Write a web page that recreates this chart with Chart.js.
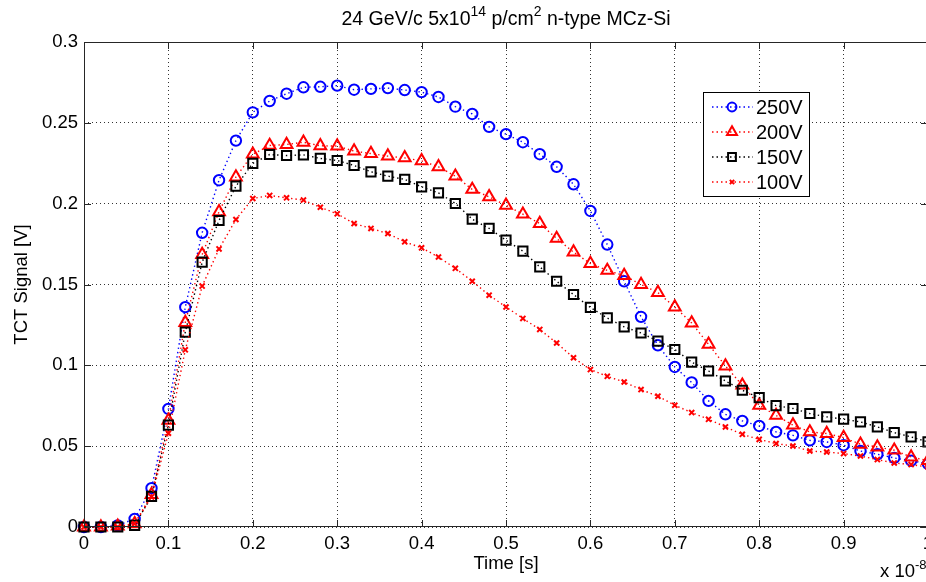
<!DOCTYPE html>
<html>
<head>
<meta charset="utf-8">
<script src="https://cdn.jsdelivr.net/npm/chart.js@4"></script>
<style>
  html, body { margin: 0; padding: 0; background: #fff; overflow: hidden; }
  #wrap { width: 940px; height: 582px; }
</style>
</head>
<body>
<div id="wrap"><canvas id="chTct" width="940" height="582"></canvas></div>
<script>
// time axis, units of 1e-8 s
var times = [0, 0.02, 0.04, 0.06, 0.08, 0.10, 0.12, 0.14, 0.16, 0.18,
             0.20, 0.22, 0.24, 0.26, 0.28, 0.30, 0.32, 0.34, 0.36, 0.38,
             0.40, 0.42, 0.44, 0.46, 0.48, 0.50, 0.52, 0.54, 0.56, 0.58,
             0.60, 0.62, 0.64, 0.66, 0.68, 0.70, 0.72, 0.74, 0.76, 0.78,
             0.80, 0.82, 0.84, 0.86, 0.88, 0.90, 0.92, 0.94, 0.96, 0.98, 1.00];

var v250 = [0, 0, 0.001, 0.005, 0.024, 0.073, 0.136, 0.182, 0.2145, 0.239,
            0.2565, 0.2635, 0.268, 0.272, 0.2723, 0.273, 0.2705, 0.271, 0.2715, 0.2703,
            0.269, 0.266, 0.260, 0.2555, 0.2475, 0.243, 0.238, 0.2306, 0.2228, 0.212,
            0.1955, 0.1747, 0.152, 0.130, 0.1124, 0.099, 0.0894, 0.078, 0.0697, 0.0656,
            0.0625, 0.0588, 0.0567, 0.0536, 0.0526, 0.0506, 0.047, 0.045, 0.0427, 0.041, 0.039];

var v200 = [0, 0, 0.0005, 0.002, 0.020, 0.066, 0.1265, 0.1685, 0.195, 0.2165,
            0.2306, 0.236, 0.2366, 0.238, 0.2358, 0.2356, 0.2325, 0.231, 0.2294, 0.2283,
            0.2265, 0.2228, 0.217, 0.2088, 0.2042, 0.199, 0.1935, 0.1877, 0.1785, 0.170,
            0.163, 0.1587, 0.1555, 0.150, 0.145, 0.136, 0.1262, 0.113, 0.0996, 0.0877,
            0.0753, 0.069, 0.063, 0.0588, 0.0578, 0.0553, 0.0512, 0.0495, 0.0475, 0.0433, 0.041];

var v150 = [0, 0, 0, 0.001, 0.019, 0.063, 0.1205, 0.1638, 0.1896, 0.2108,
            0.2249, 0.2304, 0.2298, 0.2302, 0.228, 0.2267, 0.2236, 0.2197, 0.217, 0.215,
            0.2104, 0.2067, 0.2001, 0.1904, 0.1847, 0.1774, 0.1706, 0.1609, 0.152, 0.1438,
            0.1358, 0.1293, 0.1238, 0.12, 0.115, 0.1098, 0.102, 0.0965, 0.0903, 0.0846,
            0.080, 0.0751, 0.0733, 0.0702, 0.0681, 0.0667, 0.065, 0.0619, 0.0584, 0.0557, 0.0526];

var v100 = [0, 0, 0, 0.002, 0.0186, 0.058, 0.1096, 0.149, 0.172, 0.1902,
            0.2032, 0.2051, 0.2036, 0.2022, 0.1978, 0.1937, 0.1877, 0.1847, 0.1815, 0.1764,
            0.1727, 0.167, 0.160, 0.152, 0.1434, 0.1361, 0.129, 0.1222, 0.1138, 0.1047,
            0.0974, 0.0932, 0.0897, 0.085, 0.0809, 0.0753, 0.0708, 0.0666, 0.0619, 0.0573,
            0.0542, 0.0516, 0.0501, 0.047, 0.0464, 0.0454, 0.0439, 0.0417, 0.0396, 0.0386, 0.0371];

var seriesLabels = ['250V', '200V', '150V', '100V'];
var xTicks = [0, 0.1, 0.2, 0.3, 0.4, 0.5, 0.6, 0.7, 0.8, 0.9, 1];
var yTicks = [0, 0.05, 0.1, 0.15, 0.2, 0.25, 0.3];

var FONT = '"Liberation Sans", Arial, sans-serif';

function pts(vals) {
    return vals.map(function(v, i){ return {x: times[i], y: v}; });
}

var styles = [
    {color: '#0000ff', pointStyle: 'circle',   radius: 5.2},
    {color: '#ff0000', pointStyle: 'triangle', radius: 6.8},
    {color: '#000000', pointStyle: 'rect',     radius: 6.5},
    {color: '#ff0000', pointStyle: 'crossRot', radius: 3.6}
];

var datasets = [v250, v200, v150, v100].map(function(vals, i){
    var s = styles[i];
    return {
        label: seriesLabels[i],
        data: pts(vals),
        borderColor: s.color,
        borderWidth: 1.4,
        borderDash: [1.4, 3],
        pointStyle: s.pointStyle,
        pointRadius: s.radius,
        pointBorderWidth: 2,
        pointBorderColor: s.color,
        pointBackgroundColor: 'rgba(0,0,0,0)',
        tension: 0,
        fill: false,
        clip: false,
        order: 3 - i
    };
});

// text with superscripts, parts = [[text, isSup], ...]
function drawRich(ctx, parts, cx, baseY, size, align) {
    var supSize = Math.round(size * 0.7);
    var widths = parts.map(function(p){
        ctx.font = (p[1] ? supSize : size) + 'px ' + FONT;
        return ctx.measureText(p[0]).width;
    });
    var total = widths.reduce(function(a, b){ return a + b; }, 0);
    var x = align === 'left' ? cx : cx - total / 2;
    ctx.textAlign = 'left';
    ctx.textBaseline = 'alphabetic';
    parts.forEach(function(p, i){
        ctx.font = (p[1] ? supSize : size) + 'px ' + FONT;
        ctx.fillText(p[0], x, p[1] ? baseY - size * 0.45 : baseY);
        x += widths[i];
    });
}

var matlabFrame = {
    id: 'matlabFrame',
    afterDatasetsDraw: function(chart) {
        var ctx = chart.ctx, a = chart.chartArea;
        var xs = chart.scales.x, ys = chart.scales.y;
        ctx.save();
        ctx.strokeStyle = '#262626';
        ctx.lineWidth = 1;
        ctx.beginPath();
        ctx.moveTo(a.left + 0.5, a.top + 0.5);
        ctx.lineTo(a.right - 0.5, a.top + 0.5);
        ctx.lineTo(a.right - 0.5, a.bottom - 0.5);
        ctx.lineTo(a.left + 0.5, a.bottom - 0.5);
        ctx.closePath();
        ctx.stroke();
        // inward ticks
        var tl = 7;
        ctx.beginPath();
        xTicks.forEach(function(t){
            var px = Math.round(xs.getPixelForValue(t)) + 0.5;
            ctx.moveTo(px, a.bottom); ctx.lineTo(px, a.bottom - tl);
            ctx.moveTo(px, a.top); ctx.lineTo(px, a.top + tl);
        });
        yTicks.forEach(function(t){
            var py = Math.round(ys.getPixelForValue(t)) + 0.5;
            ctx.moveTo(a.left, py); ctx.lineTo(a.left + tl, py);
            ctx.moveTo(a.right, py); ctx.lineTo(a.right - tl, py);
        });
        ctx.stroke();

        // legend
        var lx = 703.5, ly = 92.5, lw = 106, lh = 104;
        ctx.fillStyle = '#fff';
        ctx.fillRect(lx, ly, lw, lh);
        ctx.strokeStyle = '#000';
        ctx.strokeRect(lx, ly, lw, lh);
        datasets.forEach(function(ds, i){
            var ry = 107 + i * 25;
            ctx.save();
            ctx.strokeStyle = ds.borderColor;
            ctx.lineWidth = 1.5;
            ctx.setLineDash([1.5, 3]);
            ctx.beginPath();
            ctx.moveTo(712, ry); ctx.lineTo(753, ry);
            ctx.stroke();
            ctx.restore();
            ctx.save();
            ctx.strokeStyle = ds.borderColor;
            ctx.fillStyle = 'rgba(0,0,0,0)';
            ctx.lineWidth = 2;
            if (Chart.helpers && Chart.helpers.drawPoint) {
                Chart.helpers.drawPoint(ctx, {pointStyle: ds.pointStyle, radius: ds.pointRadius * 0.85, rotation: 0, borderWidth: 2}, 732, ry);
            }
            ctx.restore();
            ctx.fillStyle = '#000';
            ctx.font = '20px ' + FONT;
            ctx.textAlign = 'left';
            ctx.textBaseline = 'middle';
            ctx.fillText(ds.label, 756, ry + 1);
        });

        // titles
        ctx.fillStyle = '#000';
        drawRich(ctx, [['24 GeV/c 5x10', false], ['14', true], [' p/cm', false], ['2', true], [' n-type MCz-Si', false]],
                 (a.left + a.right) / 2, 25, 19.5, 'center');
        ctx.font = '18.5px ' + FONT;
        ctx.textAlign = 'center';
        ctx.textBaseline = 'middle';
        ctx.fillText('Time [s]', (a.left + a.right) / 2, 564);
        ctx.save();
        ctx.translate(22, (a.top + a.bottom) / 2);
        ctx.rotate(-Math.PI / 2);
        ctx.fillText('TCT Signal [V]', 0, 0);
        ctx.restore();
        drawRich(ctx, [['x 10', false], ['-8', true]], 880, 577, 18.5, 'left');
        ctx.restore();
    }
};

new Chart(document.getElementById('chTct'), {
    type: 'line',
    data: {datasets: datasets},
    plugins: [matlabFrame],
    options: {
        responsive: false,
        animation: false,
        layout: {padding: {top: 42, right: 12, left: 0, bottom: 0}},
        plugins: {legend: {display: false}, tooltip: {enabled: false}},
        scales: {
            x: {
                type: 'linear', min: 0, max: 1,
                afterFit: function(scale){ scale.height = 55; },
                afterBuildTicks: function(scale){ scale.ticks = xTicks.map(function(v){ return {value: v}; }); },
                ticks: {
                    color: '#000', padding: 6,
                    font: {family: FONT, size: 18.5},
                    callback: function(v){ return String(Math.round(v * 10) / 10); }
                },
                grid: {color: 'rgba(0,0,0,0.8)', lineWidth: 1, drawTicks: false},
                border: {display: false, dash: [1, 3]}
            },
            y: {
                type: 'linear', min: 0, max: 0.3,
                afterFit: function(scale){ scale.width = 84; },
                afterBuildTicks: function(scale){ scale.ticks = yTicks.map(function(v){ return {value: v}; }); },
                ticks: {
                    color: '#000', padding: 6,
                    font: {family: FONT, size: 18.5},
                    callback: function(v){ return String(Math.round(v * 100) / 100); }
                },
                grid: {color: 'rgba(0,0,0,0.8)', lineWidth: 1, drawTicks: false},
                border: {display: false, dash: [1, 3]}
            }
        }
    }
});
</script>
</body>
</html>
